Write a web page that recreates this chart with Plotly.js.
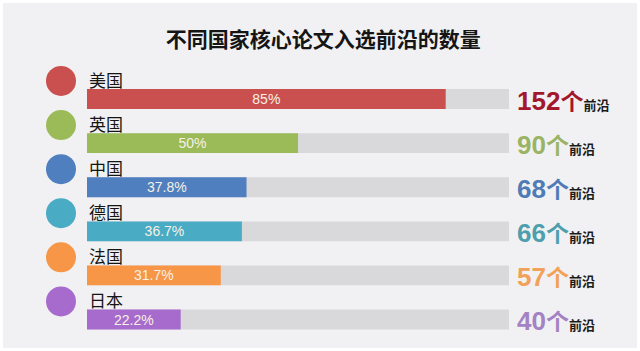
<!DOCTYPE html>
<html><head><meta charset="utf-8">
<script src="https://cdn.plot.ly/plotly-3.0.1.min.js"></script>
<style>html,body{margin:0;padding:0;background:#fff}#chart{width:640px;height:351px}</style>
</head><body><div id="chart"></div>
<script>
const countries = ['美国','英国','中国','德国','法国','日本'];
const shares = [85, 50, 37.8, 36.7, 31.7, 22.2];
const shareLabels = ['85%','50%','37.8%','36.7%','31.7%','22.2%'];
const counts = [152, 90, 68, 66, 57, 40];
const fullScale = [100, 100, 100, 100, 100, 100];
const barColors = ['#c9504e','#9bbb59','#4f7fbf','#4aabc4','#f79646','#a76bcd'];
const countColors = ['#a3172c','#9bb464','#4f7bb6','#4d9fae','#f2a257','#a482c3'];

const idx = countries.map((c,i)=>i);
const CJK = '"Noto Sans CJK SC", "Noto Sans", sans-serif';
const NARROW = '"Liberation Sans Narrow", "Liberation Sans", Arial, sans-serif';

const traces = [
  {type:'bar', orientation:'h', y:countries, x:fullScale, width:0.45,
   marker:{color:'#d9d9db'}, hoverinfo:'skip', showlegend:false},
  {type:'bar', orientation:'h', y:countries, x:shares, width:0.45,
   marker:{color:barColors}, text:shareLabels, textposition:'inside',
   insidetextanchor:'middle', textangle:0, constraintext:'none', cliponaxis:false,
   textfont:{family:NARROW, size:14, color:'#f6f1e4'}, showlegend:false},
  {type:'scatter', mode:'markers', x:countries.map(()=> -6.16), y:idx.map(i=>i-0.41),
   yaxis:'y2', marker:{size:30, color:barColors}, hoverinfo:'skip', showlegend:false}
];

const annotations = [];
countries.forEach((c,i)=>{
  annotations.push({x:0, y:i-0.45, xref:'x', yref:'y2', text:c, showarrow:false,
    xanchor:'left', yanchor:'middle', xshift:0,
    font:{family:CJK, size:17, color:'#151515'}});
  annotations.push({x:fullScale[i], y:i+0.02, xref:'x', yref:'y2',
    text:'<b>'+counts[i]+'</b><b><span style="font-family:Noto Sans CJK SC;font-size:23px">个</span></b><b><span style="font-family:Noto Sans CJK SC;font-size:13px;color:#1a1a1a">前沿</span></b>',
    showarrow:false, xanchor:'left', yanchor:'middle', xshift:6,
    font:{family:NARROW, size:26, color:countColors[i]}});
});

const layout = {
  width:640, height:351,
  margin:{l:3, r:3, t:3, b:3},
  paper_bgcolor:'#ffffff', plot_bgcolor:'#f1f1f3',
  barmode:'overlay',
  title:{text:'<b>不同国家核心论文入选前沿的数量</b>', x:0.505, xanchor:'center',
         y:1-40/351, yref:'container', yanchor:'middle',
         font:{family:CJK, size:21, color:'#151515'}},
  xaxis:{range:[-19.905, 130.33], visible:false, fixedrange:true},
  yaxis:{type:'category', categoryarray:countries, categoryorder:'array',
         range:[5.646, -2.177], visible:false},
  yaxis2:{range:[5.646, -2.177], overlaying:'y', visible:false},
  annotations:annotations,
  showlegend:false
};
Plotly.newPlot('chart', traces, layout, {displayModeBar:false, staticPlot:true});
</script></body></html>
